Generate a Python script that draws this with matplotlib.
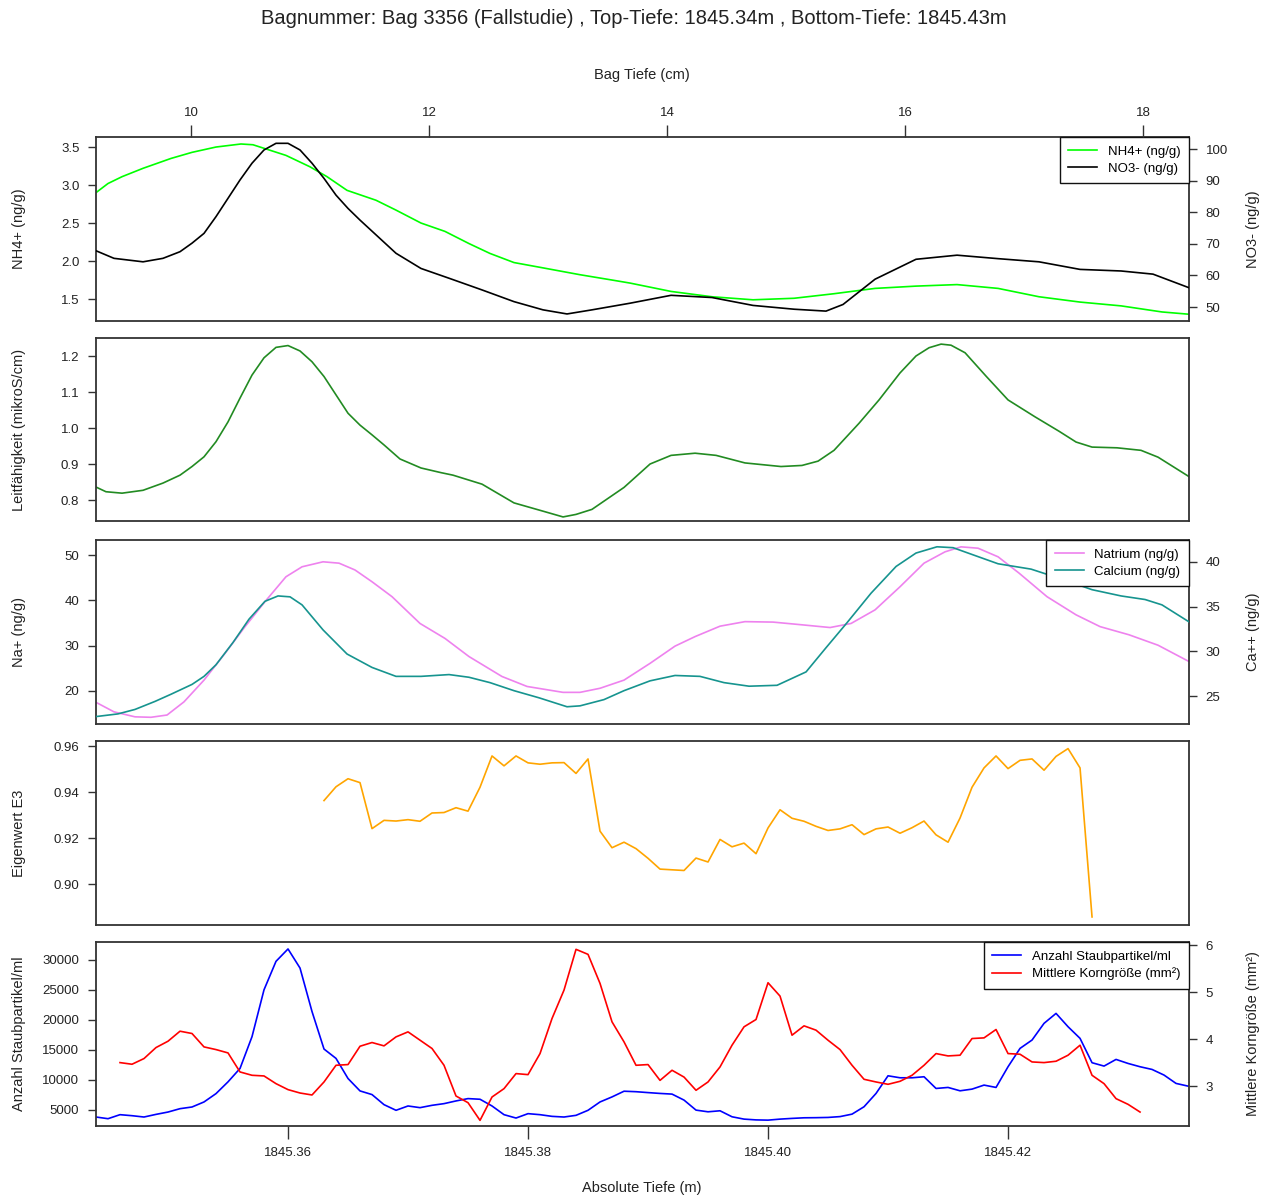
import numpy as np
import matplotlib
matplotlib.use("Agg")
import matplotlib.pyplot as plt
from matplotlib.ticker import FormatStrFormatter

plt.rcParams["font.family"] = ["Liberation Sans", "DejaVu Sans"]

TITLE = "Bagnummer: Bag 3356 (Fallstudie) , Top-Tiefe: 1845.34m , Bottom-Tiefe: 1845.43m"

# --- panel 1: NH4+ / NO3- -------------------------------------------------
nh4_depth = [1845.34400, 1845.34500, 1845.34617, 1845.34792, 1845.35025, 1845.35200,
             1845.35400, 1845.35608, 1845.35708, 1845.35983, 1845.36183, 1845.36325,
             1845.36492, 1845.36733, 1845.36900, 1845.37108, 1845.37308, 1845.37508,
             1845.37683, 1845.37883, 1845.38125, 1845.38433, 1845.38700, 1845.38850,
             1845.39192, 1845.39533, 1845.39875, 1845.40217, 1845.40550, 1845.40892,
             1845.41233, 1845.41575, 1845.41917, 1845.42258, 1845.42600, 1845.42942,
             1845.43283, 1845.43508]
nh4 = [2.90, 3.02, 3.11, 3.22, 3.35, 3.43, 3.50, 3.54, 3.53, 3.39, 3.24, 3.11,
       2.93, 2.80, 2.67, 2.50, 2.39, 2.23, 2.10, 1.98, 1.91, 1.82, 1.75, 1.71,
       1.60, 1.53, 1.49, 1.51, 1.57, 1.64, 1.67, 1.69, 1.64, 1.53, 1.46, 1.41,
       1.33, 1.30]

no3_depth = [1845.34400, 1845.34550, 1845.34792, 1845.34958, 1845.351, 1845.352,
             1845.353, 1845.354, 1845.355, 1845.356, 1845.357, 1845.358, 1845.359,
             1845.360, 1845.361, 1845.362, 1845.363, 1845.364, 1845.365, 1845.366,
             1845.367, 1845.368, 1845.369, 1845.37108, 1845.37342, 1845.37617,
             1845.37883, 1845.38125, 1845.38325, 1845.38533, 1845.38850, 1845.39192,
             1845.39533, 1845.39875, 1845.40217, 1845.40483, 1845.40625, 1845.40892,
             1845.41233, 1845.41575, 1845.41917, 1845.42258, 1845.42600, 1845.42942,
             1845.43208, 1845.43508]
no3 = [67.8, 65.4, 64.3, 65.4, 67.5, 70.2, 73.3, 78.6, 84.4, 90.2, 95.5, 99.7,
       101.8, 101.8, 99.7, 95.5, 90.7, 85.4, 81.2, 77.5, 74.0, 70.5, 67.0, 62.2,
       59.1, 55.4, 51.7, 49.1, 47.8, 49.1, 51.2, 53.7, 53.0, 50.5, 49.3, 48.7,
       50.8, 58.8, 65.1, 66.4, 65.3, 64.3, 61.9, 61.4, 60.4, 56.1]

# --- panel 2: conductivity ------------------------------------------------
leit_depth = [1845.34400, 1845.34483, 1845.34617, 1845.34792, 1845.34958, 1845.351,
              1845.352, 1845.353, 1845.354, 1845.355, 1845.356, 1845.357, 1845.358,
              1845.359, 1845.360, 1845.361, 1845.362, 1845.363, 1845.364, 1845.365,
              1845.366, 1845.367, 1845.368, 1845.36933, 1845.37108, 1845.37275,
              1845.37375, 1845.37617, 1845.37883, 1845.38125, 1845.38292, 1845.38400,
              1845.38533, 1845.38800, 1845.39017, 1845.39192, 1845.39392, 1845.39567,
              1845.39808, 1845.40108, 1845.40283, 1845.40417, 1845.40550, 1845.40758,
              1845.40925, 1845.41100, 1845.41233, 1845.41342, 1845.41442, 1845.41525,
              1845.41642, 1845.41817, 1845.42000, 1845.42225, 1845.42425, 1845.42567,
              1845.42700, 1845.42908, 1845.43108, 1845.43250, 1845.43508]
leit = [0.836, 0.823, 0.819, 0.827, 0.847, 0.869, 0.893, 0.920, 0.962, 1.017,
        1.083, 1.147, 1.195, 1.224, 1.229, 1.214, 1.184, 1.143, 1.092, 1.041,
        1.008, 0.981, 0.953, 0.914, 0.889, 0.876, 0.869, 0.844, 0.792, 0.769,
        0.753, 0.760, 0.774, 0.835, 0.900, 0.924, 0.930, 0.924, 0.903, 0.893,
        0.896, 0.908, 0.938, 1.013, 1.078, 1.153, 1.200, 1.223, 1.233, 1.230,
        1.209, 1.144, 1.078, 1.031, 0.991, 0.961, 0.947, 0.945, 0.938, 0.919,
        0.865]

# --- panel 3: Na+ / Ca++ --------------------------------------------------
na_depth = [1845.34400, 1845.34550, 1845.34725, 1845.34858, 1845.34992, 1845.35133,
            1845.35300, 1845.35475, 1845.35642, 1845.35808, 1845.35983, 1845.36117,
            1845.36292, 1845.36425, 1845.36558, 1845.36700, 1845.36867, 1845.37100,
            1845.37308, 1845.37508, 1845.37783, 1845.37992, 1845.38292, 1845.38433,
            1845.38600, 1845.38800, 1845.39017, 1845.39225, 1845.39392, 1845.39600,
            1845.39808, 1845.40042, 1845.40283, 1845.40517, 1845.40692, 1845.40892,
            1845.41100, 1845.41300, 1845.41475, 1845.41608, 1845.41750, 1845.41917,
            1845.42092, 1845.42325, 1845.42567, 1845.42767, 1845.43008, 1845.43250,
            1845.43508]
na = [17.5, 15.4, 14.3, 14.2, 14.7, 17.6, 22.4, 28.3, 34.2, 39.7, 45.2, 47.4,
      48.5, 48.2, 46.7, 44.1, 40.8, 34.9, 31.6, 27.6, 23.2, 21.0, 19.7, 19.7,
      20.6, 22.4, 26.1, 29.9, 32.0, 34.3, 35.3, 35.2, 34.6, 34.0, 34.9, 37.9,
      43.0, 48.2, 50.7, 51.8, 51.5, 49.6, 46.0, 40.8, 36.8, 34.2, 32.4, 30.1,
      26.5]

ca_depth = [1845.34400, 1845.34583, 1845.34725, 1845.34892, 1845.35025, 1845.35200,
            1845.35300, 1845.35400, 1845.35542, 1845.35675, 1845.35808, 1845.35917,
            1845.36017, 1845.36117, 1845.36292, 1845.36492, 1845.36700, 1845.36900,
            1845.37108, 1845.37342, 1845.37508, 1845.37683, 1845.37883, 1845.38092,
            1845.38325, 1845.38433, 1845.38633, 1845.38800, 1845.39017, 1845.39225,
            1845.39433, 1845.39633, 1845.39842, 1845.40075, 1845.40317, 1845.40483,
            1845.40658, 1845.40858, 1845.41067, 1845.41233, 1845.41408, 1845.41542,
            1845.41750, 1845.41917, 1845.42192, 1845.42467, 1845.42700, 1845.42942,
            1845.43142, 1845.43283, 1845.43508]
ca = [22.7, 23.0, 23.5, 24.4, 25.2, 26.3, 27.2, 28.5, 31.0, 33.6, 35.6, 36.2,
      36.1, 35.2, 32.4, 29.7, 28.2, 27.2, 27.2, 27.4, 27.1, 26.5, 25.6, 24.8,
      23.8, 23.9, 24.6, 25.6, 26.7, 27.3, 27.2, 26.5, 26.1, 26.2, 27.7, 30.4,
      33.2, 36.5, 39.5, 41.0, 41.7, 41.6, 40.6, 39.8, 39.2, 38.0, 36.9, 36.2,
      35.8, 35.2, 33.3]

# --- panels 4 and 5: 1 mm sampling ----------------------------------------
depth = np.round(1845.344 + 0.001 * np.arange(92), 3)

eigen = [0.9363, 0.9423, 0.9458, 0.9441, 0.9241, 0.9277, 0.9274, 0.9280, 0.9273,
         0.9309, 0.9311, 0.9332, 0.9317, 0.9421, 0.9557, 0.9514, 0.9557, 0.9527,
         0.9521, 0.9527, 0.9528, 0.9481, 0.9544, 0.9230, 0.9158, 0.9182, 0.9154,
         0.9112, 0.9065, 0.9062, 0.9059, 0.9113, 0.9096, 0.9194, 0.9162, 0.9178,
         0.9132, 0.9244, 0.9323, 0.9286, 0.9273, 0.9251, 0.9233, 0.9240, 0.9258,
         0.9215, 0.9240, 0.9248, 0.9221, 0.9245, 0.9274, 0.9214, 0.9182, 0.9287,
         0.9421, 0.9505, 0.9557, 0.9502, 0.9538, 0.9544, 0.9495, 0.9555, 0.9589,
         0.9505, 0.8857]
eigen_depth = depth[19:84]

staub = [3830, 3550, 4220, 4050, 3830, 4270, 4660, 5220, 5500, 6340,
         7730, 9690, 11920, 17220, 25030, 29780, 31840, 28660, 21410, 15160,
         13600, 10250, 8180, 7570, 5890, 4950, 5670, 5390, 5780, 6060,
         6510, 6900, 6790, 5670, 4220, 3660, 4390, 4220, 3940, 3830,
         4110, 4950, 6340, 7180, 8130, 8050, 7900, 7760, 7650, 6650,
         4980, 4700, 4870, 3870, 3480, 3350, 3310, 3480, 3600, 3700,
         3720, 3760, 3900, 4310, 5540, 7760, 10700, 10370, 10370, 10540,
         8590, 8760, 8200, 8480, 9150, 8760, 12210, 15270, 16660, 19440,
         21100, 18880, 16940, 12880, 12320, 13430, 12760, 12210, 11760, 10820,
         9430, 8980]

korn = [3.498, 3.463, 3.584, 3.818, 3.953, 4.166, 4.117, 3.832, 3.775,
        3.704, 3.299, 3.228, 3.214, 3.050, 2.923, 2.851, 2.809, 3.086, 3.441,
        3.456, 3.846, 3.925, 3.854, 4.045, 4.152, 3.975, 3.798, 3.441, 2.787,
        2.645, 2.269, 2.766, 2.944, 3.264, 3.242, 3.690, 4.436, 5.041, 5.908,
        5.801, 5.183, 4.365, 3.939, 3.441, 3.456, 3.120, 3.335, 3.190, 2.909,
        3.086, 3.406, 3.868, 4.259, 4.415, 5.197, 4.913, 4.081, 4.280, 4.188,
        3.974, 3.775, 3.441, 3.143, 3.086, 3.036, 3.100, 3.228, 3.441, 3.690,
        3.640, 3.655, 4.010, 4.024, 4.202, 3.690, 3.676, 3.512, 3.498, 3.527,
        3.655, 3.868, 3.228, 3.050, 2.731, 2.610, 2.446]
korn_depth = depth[2:88]

bag_ticks = [10, 12, 14, 16, 18]
depth_ticks = [1845.36, 1845.38, 1845.40, 1845.42]

XLIM = (1845.344, 1845.43508)
CMLIM = (9.2017, 18.3866)

W, H = 1270, 1198
fig = plt.figure(figsize=(W / 100, H / 100), dpi=100)

LEFT, RIGHT = 96, 1189
panels_px = [(137, 321), (338, 521), (540, 724), (741, 925), (942, 1126)]

FS_TICK = 9.5
FS_LAB = 10.5
EDGE = "#333333"
LW = 1.2


def make_ax(top, bottom):
    ax = fig.add_axes([LEFT / W, 1 - bottom / H, (RIGHT - LEFT) / W, (bottom - top) / H])
    ax.set_xlim(*XLIM)
    ax.tick_params(axis="both", labelsize=FS_TICK, length=6, width=1, pad=6,
                   color=EDGE, labelcolor="#222222")
    ax.tick_params(axis="x", bottom=False, labelbottom=False)
    for s in ax.spines.values():
        s.set_color(EDGE)
        s.set_linewidth(1.3)
    return ax


def style_twin(ax2):
    ax2.tick_params(axis="y", labelsize=FS_TICK, length=6, width=1, pad=6,
                    color=EDGE, labelcolor="#222222")
    ax2.tick_params(axis="x", bottom=False, labelbottom=False, top=False, labeltop=False)
    for s in ax2.spines.values():
        s.set_visible(False)


def ylabel(text, y_px, right=False):
    x = 1253 if right else 19
    fig.text(x / W, 1 - y_px / H, text, rotation=90, ha="center", va="center",
             fontsize=FS_LAB, color="#222222")


def legend(ax, handles):
    leg = ax.legend(handles=handles, loc="upper right", borderaxespad=0,
                    fontsize=FS_TICK, fancybox=False, framealpha=1, edgecolor="#111111",
                    handlelength=2.2, handletextpad=0.8, labelspacing=0.35,
                    borderpad=0.65)
    leg.get_frame().set_linewidth(1.0)
    leg.set_zorder(10)


# Panel 1
t, b = panels_px[0]
ax1 = make_ax(t, b)
ax1.set_ylim(1.211, 3.632)
ax1.set_yticks([1.5, 2.0, 2.5, 3.0, 3.5])
ax1.yaxis.set_major_formatter(FormatStrFormatter("%.1f"))
ax1b = ax1.twinx()
style_twin(ax1b)
ax1b.set_ylim(45.57, 103.8)
ax1b.set_yticks([50, 60, 70, 80, 90, 100])
l1, = ax1.plot(nh4_depth, nh4, color="#00ff00", lw=LW, label="NH4+ (ng/g)")
l2, = ax1b.plot(no3_depth, no3, color="black", lw=LW, label="NO3- (ng/g)")
ax1t = ax1.twiny()
ax1t.set_xlim(*CMLIM)
ax1t.set_xticks(bag_ticks)
ax1t.tick_params(axis="x", labelsize=FS_TICK, length=9, width=1, pad=4,
                 color=EDGE, labelcolor="#222222")
ax1t.tick_params(axis="y", left=False, right=False, labelleft=False, labelright=False)
for s in ax1t.spines.values():
    s.set_visible(False)
# twiny switches the bottom ticks of ax1 back on
ax1.tick_params(axis="x", bottom=False, labelbottom=False, top=False, labeltop=False)
legend(ax1b, [l1, l2])
ylabel("NH4+ (ng/g)", (t + b) / 2)
ylabel("NO3- (ng/g)", (t + b) / 2, right=True)
fig.text(642 / W, 1 - 75 / H, "Bag Tiefe (cm)", ha="center", va="center",
         fontsize=FS_LAB, color="#222222")

# Panel 2
t, b = panels_px[1]
ax2 = make_ax(t, b)
ax2.set_ylim(0.7417, 1.25)
ax2.set_yticks([0.8, 0.9, 1.0, 1.1, 1.2])
ax2.yaxis.set_major_formatter(FormatStrFormatter("%.1f"))
ax2.plot(leit_depth, leit, color="#228b22", lw=LW)
ylabel("Leitfähigkeit (mikroS/cm)", (t + b) / 2)

# Panel 3
t, b = panels_px[2]
ax3 = make_ax(t, b)
ax3.set_ylim(12.72, 53.31)
ax3.set_yticks([20, 30, 40, 50])
ax3b = ax3.twinx()
style_twin(ax3b)
ax3b.set_ylim(21.87, 42.46)
ax3b.set_yticks([25, 30, 35, 40])
l3, = ax3.plot(na_depth, na, color="#ee82ee", lw=LW, label="Natrium (ng/g)")
l4, = ax3b.plot(ca_depth, ca, color="#16948f", lw=LW, label="Calcium (ng/g)")
legend(ax3b, [l3, l4])
ylabel("Na+ (ng/g)", (t + b) / 2)
ylabel("Ca++ (ng/g)", (t + b) / 2, right=True)

# Panel 4
t, b = panels_px[3]
ax4 = make_ax(t, b)
ax4.set_ylim(0.8822, 0.9622)
ax4.set_yticks([0.90, 0.92, 0.94, 0.96])
ax4.yaxis.set_major_formatter(FormatStrFormatter("%.2f"))
ax4.plot(eigen_depth, eigen, color="#ffa500", lw=LW)
ylabel("Eigenwert E3", (t + b) / 2)

# Panel 5
t, b = panels_px[4]
ax5 = make_ax(t, b)
ax5.set_ylim(2333, 33000)
ax5.set_yticks([5000, 10000, 15000, 20000, 25000, 30000])
ax5.yaxis.set_major_formatter(FormatStrFormatter("%d"))
ax5.set_xticks(depth_ticks)
ax5.xaxis.set_major_formatter(FormatStrFormatter("%.2f"))
ax5.tick_params(axis="x", bottom=True, labelbottom=True, length=9, pad=6)
ax5b = ax5.twinx()
style_twin(ax5b)
ax5b.set_ylim(2.149, 6.064)
ax5b.set_yticks([3, 4, 5, 6])
l5, = ax5.plot(depth, staub, color="#0000ff", lw=LW, label="Anzahl Staubpartikel/ml")
l6, = ax5b.plot(korn_depth, korn, color="#ff0000", lw=LW, label="Mittlere Korngröße (mm²)")
legend(ax5b, [l5, l6])
ylabel("Anzahl Staubpartikel/ml", (t + b) / 2)
ylabel("Mittlere Korngröße (mm²)", (t + b) / 2, right=True)
fig.text(642 / W, 1 - 1188 / H, "Absolute Tiefe (m)", ha="center", va="center",
         fontsize=FS_LAB, color="#222222")

fig.text(634 / W, 1 - 18 / H, TITLE, ha="center", va="center", fontsize=14.5,
         color="#222222")

fig.savefig("out.png", dpi=100)
